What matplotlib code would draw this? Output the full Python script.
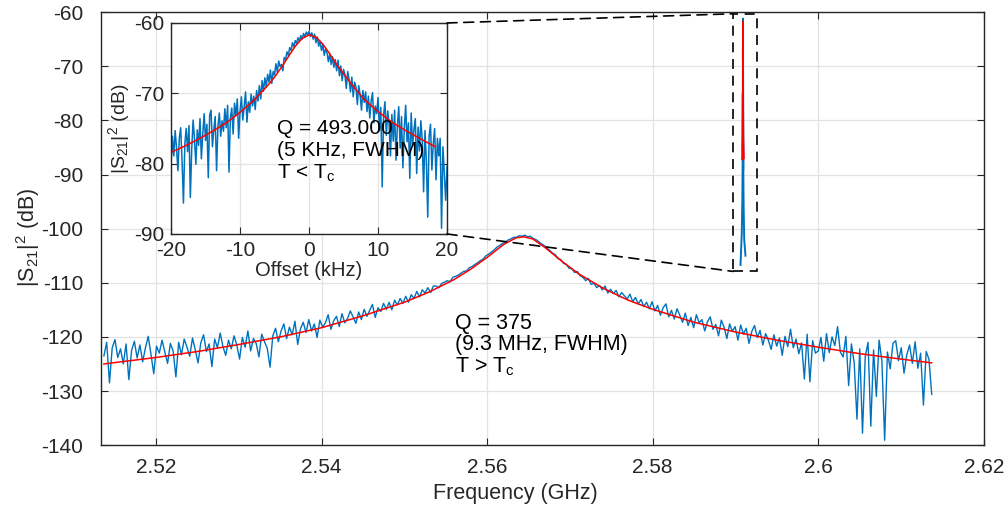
import numpy as np
import matplotlib
matplotlib.use("Agg")
import matplotlib.pyplot as plt
from matplotlib.patches import Rectangle, ConnectionPatch

plt.rcParams["font.family"] = ["Liberation Sans", "DejaVu Sans"]
plt.rcParams["mathtext.fontset"] = "custom"
plt.rcParams["mathtext.rm"] = "Liberation Sans"
plt.rcParams["mathtext.it"] = "Liberation Sans:italic"
plt.rcParams["mathtext.default"] = "regular"
plt.rcParams["axes.unicode_minus"] = False

# ---- broad resonance above Tc: sweep 2.5137 .. 2.6137 GHz, |S21|^2 in dB ----
main_f_start, main_f_stop = 2.5137, 2.6137
main_db = [
    -123.5, -121.0, -128.5, -122.0, -120.5, -123.8, -122.2, -125.0, -121.3, -127.9,
    -122.5, -120.8, -123.9, -121.5, -124.6, -122.0, -119.9, -123.2, -126.8, -121.7,
    -123.0, -120.6, -122.8, -124.9, -121.2, -122.6, -127.4, -121.0, -123.3, -120.4,
    -121.9, -123.6, -120.2, -122.4, -124.8, -121.1, -119.6, -122.7, -121.3, -125.5,
    -120.4, -122.0, -119.3, -121.8, -123.4, -120.6, -122.2, -119.8, -121.5, -124.1,
    -120.1, -121.9, -118.9, -122.6, -120.3, -121.2, -123.7, -119.5, -120.9, -122.1,
    -125.6, -119.8, -118.4, -120.9, -118.9, -117.6, -120.3, -118.2, -119.6, -117.1,
    -121.4, -118.5, -117.3, -119.2, -116.8, -118.9, -117.6, -120.1, -116.9, -118.2,
    -117.4, -115.9, -118.6, -117.0, -116.2, -118.1, -115.7, -117.4, -116.6, -115.2,
    -116.3, -117.5, -115.4, -116.8, -114.9, -116.2, -115.1, -114.0, -116.4, -114.6,
    -115.3, -113.8, -114.9, -113.6, -115.0, -113.2, -114.1, -112.9, -113.8, -112.5,
    -113.6, -112.2, -112.9, -111.6, -112.6, -111.3, -111.9, -110.9, -111.8, -110.6,
    -110.6, -110.9, -110.1, -109.9, -109.6, -109.8, -109.0, -108.8, -108.6, -108.2,
    -107.9, -107.8, -107.2, -107.0, -106.6, -106.3, -105.9, -105.6, -105.0, -104.7,
    -104.3, -103.9, -103.4, -103.1, -102.7, -102.5, -102.1, -101.9, -101.6, -101.6,
    -101.3, -101.4, -101.2, -101.5, -101.4, -101.8, -102.0, -102.4, -102.8, -103.1,
    -103.6, -104.0, -104.5, -104.8, -105.5, -105.7, -106.4, -106.6, -107.3, -107.4,
    -108.1, -107.9, -108.7, -109.0, -109.6, -109.2, -110.3, -110.1, -110.9, -110.5,
    -111.3, -110.6, -111.9, -111.2, -112.0, -111.4, -112.6, -111.8, -112.4, -113.0,
    -112.1, -113.5, -112.7, -113.9, -113.1, -114.4, -113.6, -114.8, -113.5, -115.2,
    -114.2, -116.0, -114.6, -113.9, -116.3, -115.1, -116.7, -114.8, -116.0, -117.3,
    -115.6, -117.9, -116.4, -118.3, -115.9, -117.4, -116.8, -118.9, -117.2, -116.3,
    -118.6, -117.7, -119.8, -116.9, -118.2, -120.3, -117.6, -119.0, -118.1, -120.6,
    -117.8, -119.5, -118.4, -121.2, -119.0, -117.9, -120.1, -118.8, -121.5, -119.4,
    -120.6, -122.3, -119.6, -121.7, -120.2, -123.4, -119.9, -121.8, -118.6, -122.0,
    -120.4, -123.1, -121.1, -127.8, -119.5, -128.3, -120.7, -123.0, -122.6, -120.1,
    -124.5, -119.4, -122.9, -120.0, -121.6, -118.1, -122.8, -123.7, -119.9, -129.0,
    -121.3, -124.8, -135.2, -122.2, -137.8, -123.6, -121.0, -136.5, -122.4, -131.0,
    -120.6, -124.4, -139.1, -122.8, -125.9, -121.2, -120.7, -124.4, -122.0, -126.7,
    -123.3, -121.5, -124.9, -120.9, -125.8, -123.0, -132.6, -122.7, -124.1, -130.6,
]
main_fit_freq = [2.5137, 2.520, 2.525, 2.530, 2.535, 2.540, 2.545, 2.550, 2.553,
                 2.556, 2.558, 2.560, 2.562, 2.5635, 2.5644, 2.5655, 2.567, 2.569,
                 2.571, 2.574, 2.577, 2.580, 2.585, 2.590, 2.595, 2.600, 2.605,
                 2.610, 2.6137]
main_fit_db = [-125.0, -123.8, -122.7, -121.4, -120.0, -118.3, -116.1, -113.6, -111.7,
               -109.4, -107.5, -105.3, -102.9, -101.7, -101.5, -101.9, -103.5, -106.0,
               -108.3, -111.0, -113.2, -114.9, -117.3, -119.1, -120.6, -121.9, -123.1,
               -124.1, -124.8]

# ---- narrow resonance below Tc: offset from centre in kHz ----
narrow_center_ghz = 2.5909
inset_db = [
    -80.2, -76.1, -78.9, -75.3, -77.8, -81.0, -76.4, -74.9, -79.6, -85.6,
    -77.2, -75.0, -78.3, -74.6, -84.8, -77.9, -73.8, -76.5, -80.1, -75.2,
    -77.4, -73.6, -79.3, -75.8, -72.9, -76.7, -74.4, -82.0, -73.1, -72.4,
    -77.6, -75.2, -73.3, -81.0, -74.7, -72.8, -76.1, -73.9, -75.4, -72.2,
    -74.9, -71.7, -81.2, -73.5, -72.1, -75.8, -71.4, -73.2, -70.8, -76.4,
    -72.6, -70.5, -73.8, -71.9, -69.8, -74.1, -71.2, -72.7, -70.1, -71.8,
    -70.4, -72.3, -69.6, -71.1, -68.9, -70.8, -68.2, -69.7, -67.8, -69.1,
    -67.3, -68.4, -66.7, -68.6, -66.9, -67.4, -65.8, -67.0, -65.4, -66.2,
    -65.9, -66.8, -64.9, -65.2, -64.1, -64.6, -63.5, -63.9, -62.8, -63.4,
    -62.5, -62.9, -62.1, -62.6, -61.8, -62.3, -61.5, -62.0, -61.3, -61.7,
    -61.2, -61.9, -61.4, -62.3, -61.6, -62.8, -62.0, -63.3, -62.6, -63.9,
    -63.1, -64.6, -63.7, -64.2, -65.5, -64.4, -65.9, -64.8, -66.3, -65.2,
    -66.8, -65.3, -67.5, -66.1, -68.2, -66.6, -67.4, -69.3, -66.9, -68.0,
    -69.8, -67.7, -70.5, -68.4, -69.1, -71.6, -68.9, -70.2, -72.4, -69.6,
    -71.3, -69.8, -72.6, -70.4, -73.5, -71.1, -69.9, -74.2, -71.8, -72.9,
    -70.6, -75.3, -72.0, -83.3, -73.1, -71.2, -76.0, -72.5, -74.4, -78.9,
    -73.0, -76.8, -72.4, -79.5, -74.6, -71.9, -77.8, -73.3, -80.6, -75.0,
    -71.7, -76.9, -74.2, -82.1, -72.8, -77.5, -75.1, -73.6, -81.4, -74.8,
    -78.2, -73.9, -76.6, -84.0, -75.3, -79.7, -87.6, -76.1, -74.4, -80.9,
    -77.2, -75.0, -82.3, -76.4, -78.9, -76.4, -89.2, -77.6, -81.5, -85.2,
    -80.4,
]
inset_fit_offset = [-20, -18, -16, -14, -12, -10, -8, -6, -5, -4, -3, -2, -1, 0,
                    1, 2, 3, 4, 5, 6, 8, 10, 12, 14, 16, 18.3]
inset_fit_db = [-78.4, -77.5, -76.5, -75.4, -74.2, -72.7, -71.0, -68.9, -67.7, -66.3,
                -64.8, -63.3, -62.2, -61.7, -62.0, -63.0, -64.4, -65.9, -67.2, -68.5,
                -70.9, -72.6, -74.1, -75.3, -76.4, -77.6]
# wider part of the narrow sweep, only visible as the spike in the main plot
narrow_tail_khz = [-300, -150, -80, -40, 40, 80, 150, 300]
narrow_tail_db = [-106.7, -101.0, -95.0, -88.0, -89.0, -96.0, -102.0, -105.0]
narrow_fit_tail_khz = [-100, -40, 40, 100]
narrow_fit_tail_db = [-87.2, -83.0, -83.0, -87.0]

# zoom box drawn around the spike
box_freq = (2.5897, 2.5926)
box_db = (-107.9, -60.3)

main_xticks = [2.52, 2.54, 2.56, 2.58, 2.60, 2.62]
main_xticklabels = ["2.52", "2.54", "2.56", "2.58", "2.6", "2.62"]
main_yticks = [-140, -130, -120, -110, -100, -90, -80, -70, -60]
inset_xticks = [-20, -10, 0, 10, 20]
inset_yticks = [-90, -80, -70, -60]

BLUE = "#0072BD"
RED = "#FF0000"
DARK = "#262626"
GRID = "#E3E3E3"


def style_axes(ax, fs, pad):
    ax.grid(True, color=GRID, lw=0.9)
    ax.set_axisbelow(True)
    ax.tick_params(direction="in", top=True, right=True, length=5, width=0.8,
                   colors=DARK, labelsize=fs, pad=pad)
    for s in ax.spines.values():
        s.set_color(DARK)
        s.set_linewidth(1.0)


fig = plt.figure(figsize=(10.06, 5.07), dpi=100)
ax = fig.add_axes([0.1, 0.122, 0.878, 0.854])

main_freq = np.linspace(main_f_start, main_f_stop, len(main_db))
ax.plot(main_freq, main_db, color=BLUE, lw=1.0)
ax.plot(main_fit_freq, main_fit_db, color=RED, lw=1.1)

# spike: narrow resonance on the GHz axis
sp_off = np.concatenate([narrow_tail_khz, np.linspace(-20, 20, len(inset_db))])
sp_db = np.concatenate([narrow_tail_db, inset_db])
order = np.argsort(sp_off)
ax.plot(narrow_center_ghz + sp_off[order] * 1e-6, sp_db[order], color=BLUE, lw=1.4)
fit_off = np.concatenate([narrow_fit_tail_khz, inset_fit_offset])
fit_db = np.concatenate([narrow_fit_tail_db, inset_fit_db])
order = np.argsort(fit_off)
ax.plot(narrow_center_ghz + fit_off[order] * 1e-6, fit_db[order], color=RED, lw=1.3)

ax.add_patch(Rectangle((box_freq[0], box_db[0]), box_freq[1] - box_freq[0],
                       box_db[1] - box_db[0], fill=False, ls=(0, (6, 4)),
                       color="black", lw=1.2, zorder=3))

ax.set_xlim(2.5133, 2.62)
ax.set_ylim(-140, -60)
ax.set_xticks(main_xticks)
ax.set_xticklabels(main_xticklabels)
ax.set_yticks(main_yticks)
style_axes(ax, 15, 9)
ax.tick_params(axis="y", pad=12.5)
ax.set_xlabel("Frequency (GHz)", fontsize=15.5, color=DARK)
ax.set_ylabel("|S$_{21}$|$^2$ (dB)", fontsize=15.5, color=DARK)
ax.xaxis.set_label_coords(0.47, -0.087)
ax.yaxis.set_label_coords(-0.066, 0.48)

ax.text(2.5561, -115.6, "Q = 375\n(9.3 MHz, FWHM)\nT > T$_c$", fontsize=15.5,
        ha="left", va="top", linespacing=1.0, color="black")

# inset
axi = fig.add_axes([0.170, 0.5385, 0.2744, 0.4162])
axi.set_facecolor("white")
inset_off = np.linspace(-20, 20, len(inset_db))
axi.plot(inset_off, inset_db, color=BLUE, lw=1.1)
axi.plot(inset_fit_offset, inset_fit_db, color=RED, lw=1.1)
axi.set_xlim(-20, 20)
axi.set_ylim(-90, -60)
axi.set_xticks(inset_xticks)
axi.set_yticks(inset_yticks)
style_axes(axi, 15, 5)
axi.set_xlabel("Offset (kHz)", fontsize=14.5, color=DARK, labelpad=1)
axi.set_ylabel("|S$_{21}$|$^2$ (dB)", fontsize=14, color=DARK, labelpad=1)
axi.text(-4.6, -73.7, "Q = 493.000\n(5 KHz, FWHM)\nT < T$_c$", fontsize=15,
         ha="left", va="top", linespacing=1.16, color="black")

# dashed connectors from inset corners to the zoom box
for ya, yb in [(1, box_db[1]), (0, box_db[0])]:
    con = ConnectionPatch(xyA=(1, ya), coordsA=axi.transAxes,
                          xyB=(box_freq[0], yb), coordsB=ax.transData,
                          color="black", lw=1.2, ls=(0, (6, 4)))
    fig.add_artist(con)

fig.savefig("out.png", dpi=100)
